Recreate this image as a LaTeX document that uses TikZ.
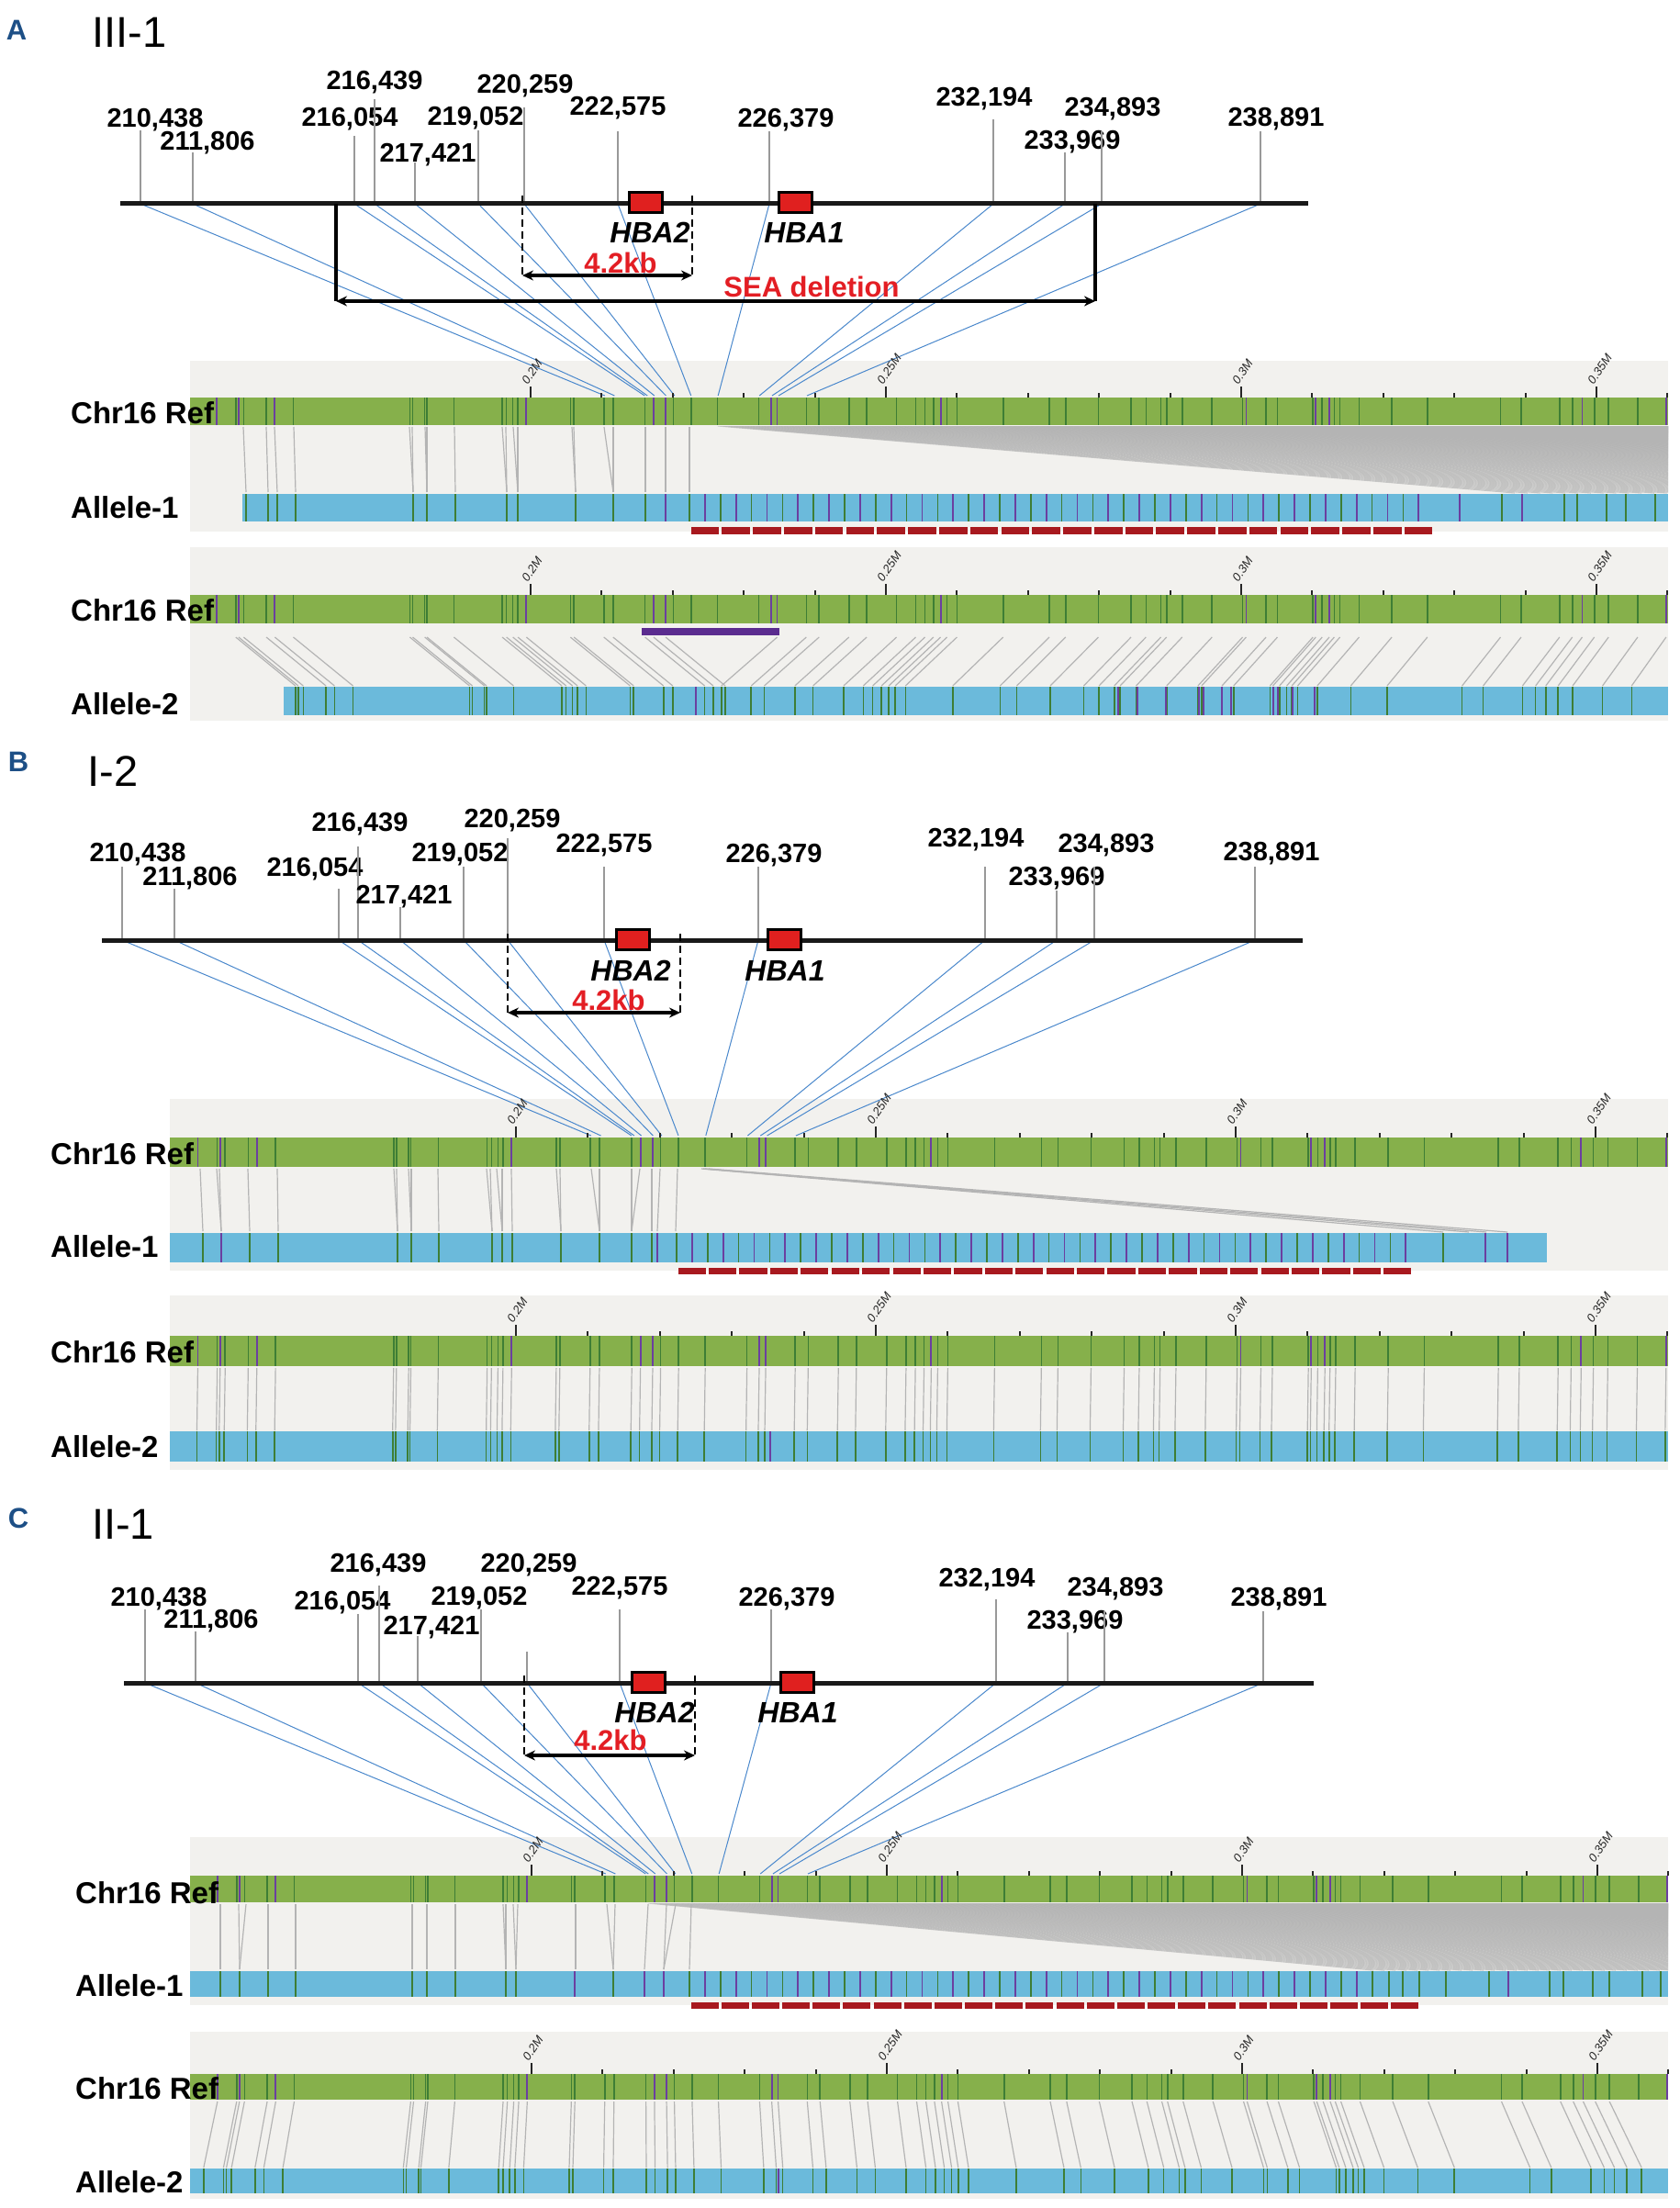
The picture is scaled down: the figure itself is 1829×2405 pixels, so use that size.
\documentclass[tikz,border=0pt]{standalone}
\usepackage{fontspec}
\setmainfont{Liberation Sans}
\usetikzlibrary{arrows.meta}
\definecolor{gbar}{HTML}{86B04B}
\definecolor{gmark}{HTML}{3E7E35}
\definecolor{pmark}{HTML}{6B3FA0}
\definecolor{bbar}{HTML}{6BBADB}
\definecolor{bgpanel}{HTML}{F2F1EE}
\definecolor{conngray}{HTML}{B4B4B4}
\definecolor{connblue}{HTML}{4A88CC}
\definecolor{hbared}{HTML}{E0201F}
\definecolor{labred}{HTML}{E31E24}
\definecolor{dashred}{HTML}{A8191F}
\definecolor{delpurple}{HTML}{5B2C8F}
\definecolor{panelblue}{HTML}{1D4F86}
\definecolor{tickgray}{HTML}{999999}

\newcommand\refmarks{155.8/p,158.5/g,158.9/p,159.6/g,162.8/g,164.0/p,166.6/g,183.0/g,183.4/g,185.1/g,185.4/g,189.2/g,196.0/g,196.6/g,197.5/g,198.2/g,199.4/p,205.6/g,206.1/g,210.3/g,211.6/g,216.1/g,217.3/p,219.0/p,220.1/g,222.6/g,226.3/g,232.1/g,233.8/p,234.7/p,238.8/g,240.6/g,244.8/g,247.3/g,251.5/g,254.2/g,255.5/g,256.7/g,257.7/p,258.6/g,260.0/g,266.5/g,273.0/g,275.3/g,279.9/g,284.5/g,286.6/g,288.7/g,289.5/g,291.7/g,295.9/g,300.2/g,300.7/p,303.5/g,305.1/g,310.1/g,310.5/p,311.4/g,312.4/p,313.1/g,313.9/g,316.6/g,321.2/g,326.2/g,336.5/g,339.4/g,344.8/g,346.6/g,348.0/p,349.7/g,351.7/g,355.8/g,359.8/p}

% #1 name, #2 left x, #3 top, #4 bottom, #5 x at 0.2M, #6 px per kb
\newcommand\refbar[6]{%
  \fill[gbar] (#2,#3) rectangle (1817,#4);
  \begin{scope}
    \clip (#2,#3) rectangle (1817,#4);
    \foreach \k/\c in \refmarks {
      \pgfmathsetmacro\xr{#5+(\k-200)*#6}
      \draw[mk\c] (\xr,#3) -- (\xr,#4);
    }
  \end{scope}
  \foreach \t in {0,...,16} {
    \pgfmathsetmacro\xt{#5+\t*10*#6}
    \draw[rtick] (\xt,#3) -- (\xt,#3-5);
  }
  \foreach \t/\lab in {0/0.2M,5/0.25M,10/0.3M,15/0.35M} {
    \pgfmathsetmacro\xt{#5+\t*10*#6}
    \draw[rtick] (\xt,#3) -- (\xt,#3-12);
    \node[rlab] (#1-\t) at (\xt-3,#3-13) {\lab};
  }
}
% repeated allele marks: #1 start, #2 count, #3 top, #4 bottom
\newcommand\repmarks[4]{%
  \foreach \i in {0,...,#2} {
    \pgfmathsetmacro\xx{#1+\i*16.9}
    \pgfmathtruncatemacro\odd{mod(\i,2)}
    \ifnum\odd=1 \draw[mkp] (\xx,#3) -- (\xx,#4); \else \draw[mkg] (\xx,#3) -- (\xx,#4); \fi
  }
}
% red dashes: #1 start, #2 end, #3 top, #4 bottom
\newcommand\reddash[4]{%
  \pgfmathsetmacro\dw{(#2-#1)/24}
  \foreach \i in {0,...,23} {
    \fill[dashred] ({#1+\i*\dw+1.6},#3) rectangle ({#1+(\i+1)*\dw-1.6},#4);
  }
}
% fan of alignment lines: #1 first ref x, #2 top y, #3 bottom y, #4 allele x of first line
\newcommand\fanlines[4]{%
  \begin{scope}
    \clip (207,#2) rectangle (1817,#3);
    \pgfmathtruncatemacro\fnext{#1+6}
    \foreach \xx in {#1,\fnext,...,1817} {
      \pgfmathsetmacro\mm{1.7+0.3*mod(\xx,3)}
      \pgfmathsetmacro\xa{#4+(\xx-#1)*\mm}
      \draw[fanline] (\xx,#2) -- (\xa,#3);
    }
  \end{scope}
}

\begin{document}
\begin{tikzpicture}[x=1pt,y=-1pt,
  numlab/.style={font=\fontsize{29}{30}\selectfont\bfseries, inner sep=0},
  titlelab/.style={font=\fontsize{47}{49}\selectfont, inner sep=0},
  panlab/.style={font=\fontsize{31}{33}\selectfont\bfseries, text=panelblue, inner sep=0},
  genelab/.style={font=\fontsize{32}{34}\selectfont\bfseries\itshape, inner sep=0},
  redlab/.style={font=\fontsize{31}{33}\selectfont\bfseries, text=labred, inner sep=0},
  rowlab/.style={font=\fontsize{33}{35}\selectfont\bfseries, inner sep=0, anchor=west},
  rlab/.style={font=\fontsize{13}{14}\selectfont\itshape, text=black!85, inner sep=0, rotate=55, anchor=south west},
  mainline/.style={draw=black!90, line width=5},
  tickline/.style={draw=tickgray, line width=2.5},
  conn/.style={draw=connblue, line width=1},
  conn2/.style={draw=conngray, line width=1.2},
  fanline/.style={draw=conngray, line width=1.1, opacity=0.7},
  rtick/.style={draw=black!85, line width=2},
  mkg/.style={draw=gmark, line width=1.6},
  mkp/.style={draw=pmark, line width=1.8},
  hbabox/.style={draw=black, line width=3, fill=hbared, minimum width=36, minimum height=22, inner sep=0},
  dashline/.style={draw=black, line width=2.5, dash pattern=on 8pt off 5pt},
  dimarrow/.style={draw=black, line width=3.5, {Stealth[length=12pt,width=11pt]}-{Stealth[length=12pt,width=11pt]}},
  bracketline/.style={draw=black, line width=3.5}
]
\useasboundingbox (0,0) rectangle (1829,2405);
\fill[white] (0,0) rectangle (1829,2405);

%%%%%%%%%%%%%%%%%%%%%%%%%%%% PANEL A
\node[panlab] (labA) at (18,33) {A};
\node[titlelab] (titA) at (141,35) {III-1};
\fill[bgpanel] (207,393) rectangle (1817,579);
\fill[bgpanel] (207,596) rectangle (1817,785);
\foreach \x/\t/\lx/\ly/\lab/\k in {153/142/169/131/{210,438}/210.438, 210/166/226/156/{211,806}/211.806, 386/148/381/130/{216,054}/216.054, 408/108/408/90/{216,439}/216.439, 452/177/466/169/{217,421}/217.421, 521/142/518/129/{219,052}/219.052, 571/117/572/94/{220,259}/220.259, 673/143/673/118/{222,575}/222.575, 838/143/856/131/{226,379}/226.379, 1082/130/1072/108/{232,194}/232.194, 1160/166/1168/155/{233,969}/233.969, 1200/143/1212/119/{234,893}/234.893, 1373/143/1390/130/{238,891}/238.891}{
  \draw[conn] (\x,222) -- ({578+(\k-200)*7.74},431);
  \draw[tickline] (\x,\t) -- (\x,222);
  \node[numlab] (A\x) at (\lx,\ly) {\lab};
}
\draw[mainline] (131,222) -- (1425,222);
\node[hbabox] (hba2A) at (703,221) {};
\node[hbabox] (hba1A) at (866,221) {};
\node[genelab] (hba2Atxt) at (708,253) {HBA2};
\node[genelab] (hba1Atxt) at (876,253) {HBA1};
\draw[dashline] (569,213) -- (569,300);
\draw[dashline] (754,213) -- (754,300);
\draw[dimarrow] (569,300) -- (754,300);
\node[redlab] (kbA) at (676,286) {4.2kb};
\draw[bracketline] (366,222) -- (366,328);
\draw[bracketline] (1193,222) -- (1193,328);
\draw[dimarrow] (366,328) -- (1193,328);
\node[redlab] (seaA) at (884,312) {SEA deletion};

% A allele-1 panel
\refbar{rA1}{207}{433}{463}{578}{7.74}
\fill[bbar] (264,538) rectangle (1817,568);
\foreach \x/\c in {268/g,292/g,302/g,322/g,450/g,465/g,496/g,552/g,564/g,627/g,668/g,703/g,725/p,1590/p,1636/g,1658/p,1704/g,1718/g,1750/g,1771/g,1803/g}
  \draw[mk\c] (\x,538) -- (\x,568);
\repmarks{751}{47}{538}{568}
\foreach \a/\b in {265/268,290/292,299/302,320/322,446/450,449/450,463/465,465/465,495/496,547/552,551/552,559/564,564/564,623/627,625/627,658/668,668/668,703/703,725/725,751/751}
  \draw[conn2] (\a,465) -- (\b,536);
\fanlines{782}{464}{537}{1650}
\reddash{751}{1562}{574}{582}
\node[rowlab] (rA1) at (77,450) {Chr16 Ref};
\node[rowlab] (aA1) at (77,553) {Allele-1};

% A allele-2 panel
\refbar{rA2}{207}{648}{679}{578}{7.74}
\fill[delpurple] (699,684) rectangle (849,692);
\fill[bbar] (309,748) rectangle (1817,779);
\foreach \k/\c in \refmarks {
  \pgfmathsetmacro\xr{578+(\k-200)*7.74}
  \pgfmathsetmacro\xa{(\k<220)*(\xr+65)+(\k>234.5)*(\xr-60+(\xr-880)*0.024)+(\k>=220)*(\k<=234.5)*(-1000)}
  \ifdim\xa pt>311pt \ifdim\xa pt<1816pt
    \draw[conn2] (\xr,694) -- (\xa,747);
    \draw[mkg] (\xa,748) -- (\xa,779);
  \fi\fi
}
\foreach \x in {758,1218,1239,1270,1306,1311,1331,1341,1387,1392,1408,1432}
  \draw[mkp] (\x,748) -- (\x,779);
\node[rowlab] (rA2) at (77,665) {Chr16 Ref};
\node[rowlab] (aA2) at (77,767) {Allele-2};

%%%%%%%%%%%%%%%%%%%%%%%%%%%% PANEL B
\node[panlab] (labB) at (20,830) {B};
\node[titlelab] (titB) at (123,840) {I-2};
\fill[bgpanel] (185,1197) rectangle (1817,1384);
\fill[bgpanel] (185,1411) rectangle (1817,1601);
\foreach \x/\t/\lx/\ly/\lab/\k in {133/944/150/931/{210,438}/210.438, 190/968/207/957/{211,806}/211.806, 369/968/343/947/{216,054}/216.054, 390/922/392/898/{216,439}/216.439, 436/988/440/977/{217,421}/217.421, 505/944/501/931/{219,052}/219.052, 553/913/558/894/{220,259}/220.259, 658/944/658/921/{222,575}/222.575, 826/944/843/932/{226,379}/226.379, 1073/944/1063/915/{232,194}/232.194, 1151/970/1151/957/{233,969}/233.969, 1192/944/1205/921/{234,893}/234.893, 1367/944/1385/930/{238,891}/238.891}{
  \draw[conn] (\x,1024) -- ({562+(\k-200)*7.84},1237);
  \draw[tickline] (\x,\t) -- (\x,1024);
  \node[numlab] (B\x) at (\lx,\ly) {\lab};
}
\draw[mainline] (111,1024) -- (1419,1024);
\node[hbabox] (hba2B) at (689,1023) {};
\node[hbabox] (hba1B) at (854,1023) {};
\node[genelab] (hba2Btxt) at (687,1057) {HBA2};
\node[genelab] (hba1Btxt) at (855,1057) {HBA1};
\draw[dashline] (553,1017) -- (553,1103);
\draw[dashline] (741,1017) -- (741,1103);
\draw[dimarrow] (553,1103) -- (741,1103);
\node[redlab] (kbB) at (663,1089) {4.2kb};

% B allele-1 panel
\refbar{rB1}{185}{1239}{1271}{562}{7.84}
\fill[bbar] (185,1343) rectangle (1685,1375);
\foreach \x/\c in {221/g,241/p,272/g,303/g,433/g,448/g,478/g,536/g,547/g,558/g,611/g,653/g,688/g,710/g,716/p,1572/g,1618/p,1642/p}
  \draw[mk\c] (\x,1343) -- (\x,1375);
\repmarks{737}{47}{1343}{1375}
\foreach \a/\b in {218/221,236/241,239/241,270/272,302/303,429/433,432/433,445/448,448/448,477/478,530/536,534/536,541/547,547/547,557/558,606/611,610/611,644/653,653/653,688/688,697/688,710/710,719/716,738/736}
  \draw[conn2] (\a,1273) -- (\b,1341);
\foreach \a/\b in {764/1572,766/1600,768/1619,772/1642}
  \draw[conn2] (\a,1273) -- (\b,1342);
\reddash{737}{1539}{1381}{1388}
\node[rowlab] (rB1) at (55,1257) {Chr16 Ref};
\node[rowlab] (aB1) at (55,1358) {Allele-1};

% B allele-2 panel
\refbar{rB2}{185}{1455}{1488}{562}{7.84}
\fill[bbar] (185,1559) rectangle (1817,1592);
\foreach \k/\c in \refmarks {
  \pgfmathsetmacro\xr{562+(\k-200)*7.84}
  \pgfmathsetmacro\xa{\xr-1}
  \ifdim\xa pt>187pt \ifdim\xa pt<1816pt
    \draw[conn2] (\xr,1490) -- (\xa,1558);
    \draw[mkg] (\xa,1559) -- (\xa,1592);
  \fi\fi
}
\draw[mkp] (839,1559) -- (839,1592);
\node[rowlab] (rB2) at (55,1473) {Chr16 Ref};
\node[rowlab] (aB2) at (55,1576) {Allele-2};

%%%%%%%%%%%%%%%%%%%%%%%%%%%% PANEL C
\node[panlab] (labC) at (20,1654) {C};
\node[titlelab] (titC) at (134,1660) {II-1};
\fill[bgpanel] (207,2001) rectangle (1817,2184);
\fill[bgpanel] (207,2213) rectangle (1817,2395);
\foreach \x/\t/\lx/\ly/\lab/\k in {158/1753/173/1742/{210,438}/210.438, 213/1777/230/1766/{211,806}/211.806, 390/1758/373/1746/{216,054}/216.054, 413/1727/412/1705/{216,439}/216.439, 455/1782/470/1773/{217,421}/217.421, 524/1753/522/1741/{219,052}/219.052, 574/1799/576/1705/{220,259}/220.259, 675/1753/675/1730/{222,575}/222.575, 840/1753/857/1742/{226,379}/226.379, 1085/1742/1075/1721/{232,194}/232.194, 1163/1778/1171/1767/{233,969}/233.969, 1203/1755/1215/1731/{234,893}/234.893, 1376/1755/1393/1742/{238,891}/238.891}{
  \draw[conn] (\x,1833) -- ({579+(\k-200)*7.74},2041);
  \draw[tickline] (\x,\t) -- (\x,1833);
  \node[numlab] (C\x) at (\lx,\ly) {\lab};
}
\draw[mainline] (135,1833) -- (1431,1833);
\node[hbabox] (hba2C) at (706,1832) {};
\node[hbabox] (hba1C) at (868,1832) {};
\node[genelab] (hba2Ctxt) at (713,1865) {HBA2};
\node[genelab] (hba1Ctxt) at (869,1865) {HBA1};
\draw[dashline] (571,1825) -- (571,1912);
\draw[dashline] (757,1825) -- (757,1912);
\draw[dimarrow] (571,1912) -- (757,1912);
\node[redlab] (kbC) at (665,1895) {4.2kb};

% C allele-1 panel
\refbar{rC1}{207}{2043}{2072}{579}{7.74}
\fill[bbar] (207,2147) rectangle (1817,2175);
\foreach \x/\c in {240/g,261/g,292/g,322/g,449/g,465/g,496/g,551/g,562/g,626/p,668/g,702/p,723/p,1495/g,1513/g,1528/g,1546/g,1575/g,1622/g,1643/p,1688/g,1703/g,1735/g,1753/g,1789/g,1809/g}
  \draw[mk\c] (\x,2147) -- (\x,2175);
\repmarks{751}{43}{2147}{2175}
\foreach \a/\b in {240/240,260/261,268/261,292/292,322/322,449/449,465/465,496/496,548/551,551/551,559/562,564/562,627/627,661/668,670/668,706/702,726/723,736/723,753/751}
  \draw[conn2] (\a,2074) -- (\b,2145);
\fanlines{706}{2073}{2146}{1496}
\reddash{751}{1547}{2181}{2188}
\node[rowlab] (rC1) at (82,2062) {Chr16 Ref};
\node[rowlab] (aC1) at (82,2163) {Allele-1};

% C allele-2 panel
\refbar{rC2}{207}{2259}{2287}{579}{7.74}
\fill[bbar] (207,2362) rectangle (1817,2389);
\foreach \k/\c in \refmarks {
  \pgfmathsetmacro\xr{579+(\k-200)*7.74}
  \pgfmathsetmacro\xa{\xr+0.033*(\xr-693)}
  \ifdim\xa pt>209pt \ifdim\xa pt<1816pt
    \draw[conn2] (\xr,2289) -- (\xa,2361);
    \draw[mkg] (\xa,2362) -- (\xa,2389);
  \fi\fi
}
\draw[mkp] (848,2362) -- (848,2389);
\node[rowlab] (rC2) at (82,2275) {Chr16 Ref};
\node[rowlab] (aC2) at (82,2377) {Allele-2};
\end{tikzpicture}
\end{document}
